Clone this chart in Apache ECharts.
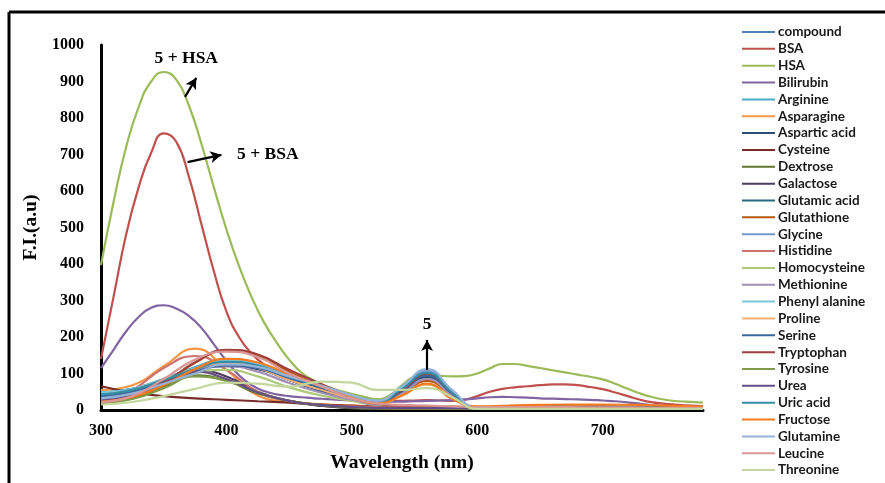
<!DOCTYPE html>
<html><head><meta charset="utf-8">
<script src="https://cdn.jsdelivr.net/npm/echarts@6/dist/echarts.min.js"></script>
<style>html,body{margin:0;padding:0;background:#fff}#c{width:885px;height:483px}</style>
</head><body><div id="c"></div>
<script>
// fine wavelength grid (10 nm) for the three strong responders
const wavelengthsFine = [300,310,320,330,340,350,360,370,380,390,400,410,420,430,440,450,460,470,480,490,500,510,520,530,540,550,560,570,580,590,600,610,620,630,640,650,660,670,680,690,700,710,720,730,740,750,760,770,780];
// coarse wavelength grid for the other analytes
const wavelengths = [300,325,350,375,400,425,450,475,500,520,540,560,580,600,625,650,675,700,725,750,780];

const seriesNames = ["compound","BSA","HSA","Bilirubin","Arginine","Asparagine","Aspartic acid","Cysteine","Dextrose","Galactose","Glutamic acid","Glutathione","Glycine","Histidine","Homocysteine","Methionine","Phenyl alanine","Proline","Serine","Tryptophan","Tyrosine","Urea","Uric acid","Fructose","Glutamine","Leucine","Threonine"];
const seriesColors = ["#4F81BD","#C0504D","#9BBB59","#8064A2","#4BACC6","#F79646","#2C4D75","#772C2A","#5F7530","#4D3B62","#276A7C","#B65708","#729ACA","#CD7371","#AFC97A","#A18FB7","#7BC7DC","#F9B074","#3A679C","#9E413E","#7F9A48","#664F83","#358EA6","#F47B20","#95B3D7","#D99694","#C3D69B"];

const HSA       = [397,570,720,830,900,926,905,835,730,610,495,395,310,240,185,138,102,80,64,53,44,36,30,40,68,92,98,94,92,93,100,114,126,126,121,115,109,103,97,91,84,72,58,45,35,28,24,22,20];
const BSA       = [140,310,480,610,705,758,735,640,510,380,270,200,155,125,105,90,78,66,56,47,39,32,27,25,25,26,27,26,25,28,38,50,58,62,65,68,70,70,68,63,57,48,38,28,21,17,14,12,11];
const Bilirubin = [115,165,215,255,280,287,278,258,225,180,135,95,68,52,43,38,35,32,30,28,26,24,23,23,23,24,25,26,27,29,32,35,36,35,34,32,31,30,29,28,26,24,21,17,13,10,8,7,6];

const compound     = [40,55,80,112,130,117,82,55,35,20,60,105,50,5,4,4,4,3,3,3,3];
const Arginine     = [50,58,82,118,138,122,90,62,38,22,55,95,45,5,5,5,5,5,4,4,4];
const Asparagine   = [55,68,120,168,110,40,22,16,12,10,8,8,7,6,6,6,6,5,5,5,5];
const AsparticAcid = [35,48,78,108,120,112,82,52,30,15,50,90,42,5,4,4,4,4,3,3,3];
const Cysteine     = [65,48,38,32,28,24,20,15,12,10,10,10,9,8,8,7,7,7,6,6,5];
const Dextrose     = [20,33,65,95,80,45,25,12,5,3,3,3,3,3,3,3,3,3,3,3,3];
const Galactose    = [30,45,80,110,92,50,25,12,6,4,4,4,4,4,4,4,4,4,4,4,4];
const GlutamicAcid = [45,58,85,115,130,118,88,60,35,18,55,98,45,6,9,10,10,10,9,8,6];
const Glutathione  = [20,35,70,130,162,150,105,65,35,20,45,80,38,5,5,5,5,5,5,4,4];
const Glycine      = [30,45,75,108,128,120,92,65,38,22,60,108,52,6,5,5,5,5,4,4,4];
const Histidine    = [25,55,115,148,110,50,25,14,10,8,7,6,5,5,5,5,5,5,4,4,4];
const Homocysteine = [25,38,70,100,110,92,62,40,25,15,40,70,33,5,5,5,5,5,4,4,4];
const Methionine   = [35,48,78,110,120,105,74,48,28,15,45,85,40,4,4,4,4,4,4,3,3];
const PhenylAlanine= [48,58,85,115,135,125,95,68,40,25,60,100,48,6,5,5,5,5,4,4,4];
const Proline      = [40,54,82,112,128,115,82,56,32,18,40,70,35,5,5,5,5,5,4,4,4];
const Serine       = [38,50,78,105,122,115,88,62,34,18,52,95,45,5,5,5,5,5,4,4,4];
const Tryptophan   = [25,38,75,130,165,152,110,72,38,22,55,100,48,6,6,6,6,6,5,5,5];
const Tyrosine     = [20,30,60,92,80,48,25,14,7,5,4,4,4,4,4,4,4,4,4,4,4];
const Urea         = [28,42,72,105,85,48,25,14,8,6,5,5,5,5,5,5,5,5,5,5,5];
const UricAcid     = [42,55,82,112,132,122,92,65,37,20,58,102,48,5,5,5,5,5,4,4,4];
const Fructose     = [22,36,68,112,140,130,98,66,35,18,40,72,30,10,12,14,15,15,14,12,9];
const Glutamine    = [32,45,72,100,125,118,92,68,40,25,65,112,55,6,5,5,5,5,4,4,4];
const Leucine      = [22,38,85,138,160,145,100,65,32,18,14,12,10,8,8,8,8,7,7,6,6];
const Threonine    = [15,22,38,58,75,72,64,78,75,55,55,60,35,3,3,3,3,3,3,3,3];

const seriesValues = [compound,BSA,HSA,Bilirubin,Arginine,Asparagine,AsparticAcid,Cysteine,Dextrose,Galactose,GlutamicAcid,Glutathione,Glycine,Histidine,Homocysteine,Methionine,PhenylAlanine,Proline,Serine,Tryptophan,Tyrosine,Urea,UricAcid,Fructose,Glutamine,Leucine,Threonine];
const fineSeries = ["BSA","HSA","Bilirubin"];

const xTicks = [300,400,500,600,700];
const yTicks = [0,100,200,300,400,500,600,700,800,900,1000];

// annotations in data coordinates
const annotTexts = [{text:"5 + HSA", at:[368,964]},{text:"5 + BSA", at:[433,699]},{text:"5", at:[560,233]}];
const annotArrows = [[[367,858],[376,910]],[[369,679],[396,699]],[[560,110],[560,192]]];

const serif = "'Liberation Serif','Times New Roman',serif";
const chart = echarts.init(document.getElementById('c'), null, {renderer:'canvas'});

const series = seriesNames.map((n,i)=>{
  const xs = fineSeries.includes(n) ? wavelengthsFine : wavelengths;
  return {
    name:n, type:'line', smooth:0.5, symbol:'none',
    data: xs.map((w,k)=>[w, seriesValues[i][k]]),
    lineStyle:{width:2.2, color:seriesColors[i]}, itemStyle:{color:seriesColors[i]},
    z: 2, animation:false
  };
});
series.push({
  name:'_annot', type:'line', data:[], symbol:'none', silent:true,
  markLine:{silent:true, symbol:['none','arrow'], symbolSize:[9,11], animation:false,
    lineStyle:{color:'#000', width:2.2, type:'solid'}, label:{show:false},
    data: annotArrows.map(a=>[{coord:a[0]},{coord:a[1]}])},
  markPoint:{silent:true, symbol:'circle', symbolSize:0, animation:false,
    label:{show:true, color:'#000', fontFamily:serif, fontWeight:'bold', fontSize:17.5, position:'inside', formatter:p=>p.name},
    data: annotTexts.map(t=>({name:t.text, coord:t.at}))}
});

chart.setOption({
  animation:false,
  backgroundColor:'#fff',
  grid:{left:101, right:182, top:45, bottom:73},
  legend:{
    data:seriesNames, orient:'vertical', left:742, top:25, bottom:0, padding:0,
    itemWidth:33, itemHeight:12, itemGap:2.85,
    textStyle:{fontFamily:"Lato, 'Open Sans', sans-serif", fontWeight:'bold', fontSize:13.5, color:'#1a1a1a', padding:[0,0,0,-2]},
    icon:'path://M0,5 L33,5 L33,7 L0,7 Z'
  },
  xAxis:{type:'value', min:300, max:780, interval:100,
    axisLine:{show:true, onZero:false, lineStyle:{color:'#000', width:3}},
    axisTick:{show:false}, splitLine:{show:false},
    axisLabel:{showMaxLabel:false, color:'#000', fontFamily:serif, fontWeight:'bold', fontSize:16, margin:13,
      formatter:v=> xTicks.includes(v)? String(v):''},
    name:'Wavelength (nm)', nameLocation:'middle', nameGap:43,
    nameTextStyle:{color:'#000', fontFamily:serif, fontWeight:'bold', fontSize:19.5}
  },
  yAxis:{type:'value', min:0, max:1000, interval:100,
    axisLine:{show:true, lineStyle:{color:'#000', width:3}},
    axisTick:{show:false}, splitLine:{show:false},
    axisLabel:{color:'#000', fontFamily:serif, fontWeight:'bold', fontSize:16, margin:17,
      formatter:v=> yTicks.includes(v)? String(v):''},
    name:'F.I.(a.u)', nameLocation:'middle', nameGap:60, nameRotate:90,
    nameTextStyle:{color:'#000', fontFamily:serif, fontWeight:'bold', fontSize:19.5}
  },
  graphic:[
    {type:'line', shape:{x1:9, y1:12, x2:885, y2:12}, style:{stroke:'#000', lineWidth:3}, silent:true},
    {type:'line', shape:{x1:9, y1:12, x2:9, y2:483}, style:{stroke:'#000', lineWidth:3}, silent:true}
  ],
  series
});
</script></body></html>
